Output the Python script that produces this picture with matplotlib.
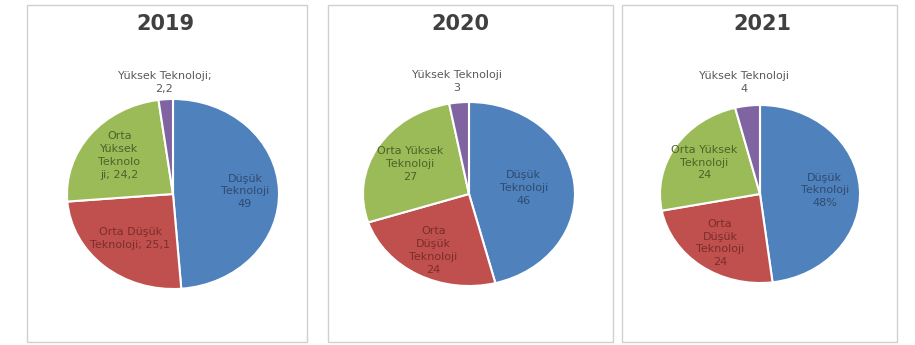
import matplotlib.pyplot as plt
from matplotlib.patches import Rectangle
import numpy as np

years = ["2019", "2020", "2021"]
vals_2019 = [49, 25.1, 24.2, 2.2]
vals_2020 = [46, 24, 27, 3]
vals_2021 = [48, 24, 24, 4]
labels_2019 = ["Düşük\nTeknoloji\n49", "Orta Düşük\nTeknoloji; 25,1",
               "Orta\nYüksek\nTeknolo\nji; 24,2", "Yüksek Teknoloji;\n2,2"]
labels_2020 = ["Düşük\nTeknoloji\n46", "Orta\nDüşük\nTeknoloji\n24",
               "Orta Yüksek\nTeknoloji\n27", "Yüksek Teknoloji\n3"]
labels_2021 = ["Düşük\nTeknoloji\n48%", "Orta\nDüşük\nTeknoloji\n24",
               "Orta Yüksek\nTeknoloji\n24", "Yüksek Teknoloji\n4"]

all_vals = [vals_2019, vals_2020, vals_2021]
all_labels = [labels_2019, labels_2020, labels_2021]

colors = ["#4F81BD", "#C0504D", "#9BBB59", "#8064A2"]
text_colors = ["#2E4B70", "#7A2E2C", "#4F6228", "#595959"]
label_r = [[0.68, 0.62, 0.65, 1.18], [0.52, 0.70, 0.64, 1.23], [0.65, 0.68, 0.66, 1.26]]

W, H = 915, 345
fig = plt.figure(figsize=(W / 100, H / 100), dpi=100)

# panel frames (pixels: left, right)
frames = [(27, 307), (328, 613), (622, 897)]
# pie boxes (cx, cy, rx, ry) in pixels
pies = [(173, 194, 106, 95), (469, 194, 106, 92), (760, 194, 100, 89)]
title_x = [165, 460, 762]

for i in range(3):
    l, r = frames[i]
    fig.patches.append(Rectangle((l / W, 3 / H), (r - l) / W, (337) / H,
                                 transform=fig.transFigure, fill=False,
                                 edgecolor="#D0D0D0", linewidth=1))
    fig.text(title_x[i] / W, 1 - 24 / H, years[i], ha="center", va="center",
             fontsize=15, fontweight="bold", color="#404040")

    cx, cy, rx, ry = pies[i]
    ax = fig.add_axes([(cx - rx) / W, (H - cy - ry) / H, 2 * rx / W, 2 * ry / H])
    wedges, _ = ax.pie(all_vals[i], colors=colors, startangle=90, counterclock=False,
                       wedgeprops=dict(edgecolor="white", linewidth=1.5))
    ax.set_aspect("auto")
    ax.set_xlim(-1, 1)
    ax.set_ylim(-1, 1)
    ax.axis("off")
    for j, w in enumerate(wedges):
        ang = np.deg2rad((w.theta1 + w.theta2) / 2)
        d = label_r[i][j]
        ax.text(d * np.cos(ang), d * np.sin(ang), all_labels[i][j], ha="center",
                va="center", fontsize=8, color=text_colors[j], linespacing=1.35,
                clip_on=False)

fig.savefig("out.png", dpi=100, facecolor="white")
